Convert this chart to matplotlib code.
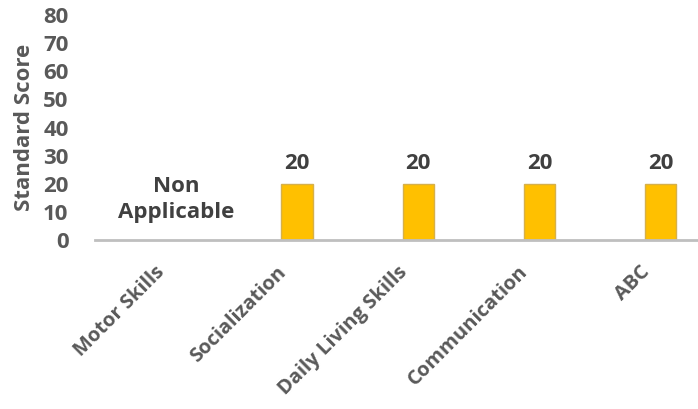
import numpy as np
import matplotlib.pyplot as plt
from matplotlib.transforms import ScaledTranslation

categories = ["Motor Skills", "Socialization", "Daily Living Skills", "Communication", "ABC"]
scores = [np.nan, 20, 20, 20, 20]   # motor skills not scored
na_text = "Non\nApplicable"
yticks = [0, 10, 20, 30, 40, 50, 60, 70, 80]

plt.rcParams['font.family'] = ['Open Sans', 'DejaVu Sans']
plt.rcParams['font.weight'] = 'bold'

grey = '#595959'
dark = '#404040'
fs = 16

fig = plt.figure(figsize=(6.98, 4.09), dpi=100)
ax = fig.add_axes([0.136, 0.413, 0.864, 0.55])

x = np.arange(len(categories))
ax.bar(x, scores, width=0.26, color='#FFC000', edgecolor='#D6B04A', linewidth=1.0, zorder=2)

for xi, v in zip(x, scores):
    if np.isnan(v):
        ax.text(xi, 14.5, na_text, ha='center', va='center', fontsize=fs,
                fontweight='bold', color=dark, linespacing=1.3)
    else:
        ax.annotate(f"{v:g}", (xi, v), xytext=(0, 7), textcoords='offset points',
                    ha='center', va='bottom', fontsize=fs, fontweight='bold', color=dark)

ax.set_xlim(-0.67, 4.31)
ax.set_ylim(0, 80)
ax.set_yticks(yticks)
ax.set_xticks(x)
ax.set_xticklabels(categories, rotation=45, ha='right', va='center', rotation_mode='anchor')
ax.tick_params(axis='y', length=0, labelsize=fs, labelcolor=grey, pad=19)
ax.tick_params(axis='x', length=0, labelsize=14.5, labelcolor=grey, pad=21)
shift = ScaledTranslation(-14 / 100, 0, fig.dpi_scale_trans)
for lbl in ax.get_xticklabels():
    lbl.set_fontweight('bold')
    lbl.set_transform(lbl.get_transform() + shift)
for lbl in ax.get_yticklabels():
    lbl.set_fontweight('bold')

ax.set_ylabel("Standard Score", fontsize=fs, fontweight='bold', color=grey, labelpad=6)

for side in ['top', 'right', 'left']:
    ax.spines[side].set_visible(False)
ax.spines['bottom'].set_color('#BFBFBF')
ax.spines['bottom'].set_linewidth(2)

fig.savefig("out.png", dpi=100)
